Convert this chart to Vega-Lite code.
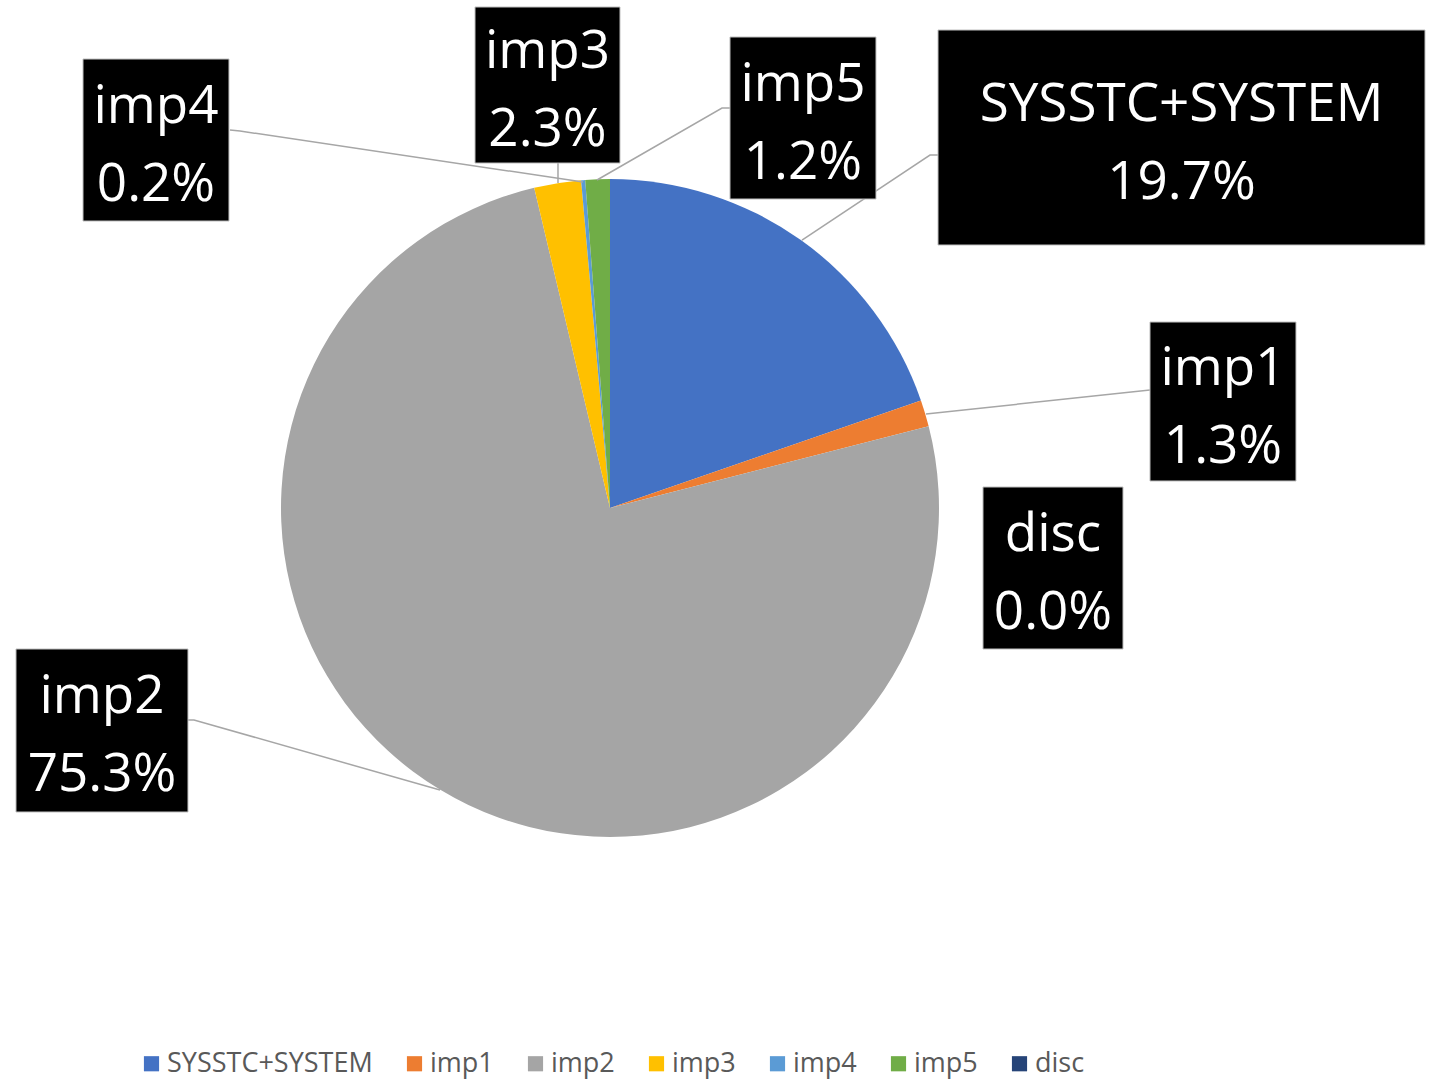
{
  "$schema": "https://vega.github.io/schema/vega-lite/v6.json",
  "width": 1220,
  "height": 1016,
  "autosize": {"type": "none"},
  "padding": {"left": 0, "top": 0, "right": 215, "bottom": 65},
  "background": "white",
  "config": {"view": {"stroke": null}, "font": "Open Sans"},
  "datasets": {
    "slices": [
      {"name": "SYSSTC+SYSTEM", "value": 19.7, "ord": 1, "bx1": 0.997, "bx2": 2.4772, "by1": 1.4529, "by2": 0.7994},
      {"name": "imp1", "value": 1.3, "ord": 2, "bx1": 1.6413, "bx2": 2.0851, "by1": 0.5653, "by2": 0.0821},
      {"name": "imp2", "value": 75.3, "ord": 3, "bx1": -1.8055, "bx2": -1.2827, "by1": -0.4286, "by2": -0.924},
      {"name": "imp3", "value": 2.3, "ord": 4, "bx1": -0.4103, "bx2": 0.0304, "by1": 1.5228, "by2": 1.0486},
      {"name": "imp4", "value": 0.2, "ord": 5, "bx1": -1.6018, "bx2": -1.1581, "by1": 1.3647, "by2": 0.8723},
      {"name": "imp5", "value": 1.2, "ord": 6, "bx1": 0.3647, "bx2": 0.8085, "by1": 1.4316, "by2": 0.9392},
      {"name": "disc", "value": 0.0, "ord": 7, "bx1": 1.1337, "bx2": 1.5593, "by1": 0.0638, "by2": -0.4286}
    ],
    "leaders": [
      {"name": "SYSSTC+SYSTEM", "seq": 1, "lx": 0.997, "ly": 1.0729},
      {"name": "SYSSTC+SYSTEM", "seq": 2, "lx": 0.9726, "ly": 1.0729},
      {"name": "SYSSTC+SYSTEM", "seq": 3, "lx": 0.5836, "ly": 0.8146},
      {"name": "imp1", "seq": 1, "lx": 1.6413, "ly": 0.3587},
      {"name": "imp1", "seq": 2, "lx": 0.9605, "ly": 0.2857},
      {"name": "imp2", "seq": 1, "lx": -1.2827, "ly": -0.6444},
      {"name": "imp2", "seq": 2, "lx": -1.2644, "ly": -0.6444},
      {"name": "imp2", "seq": 3, "lx": -0.5167, "ly": -0.8571},
      {"name": "imp3", "seq": 1, "lx": -0.1581, "ly": 1.0486},
      {"name": "imp3", "seq": 2, "lx": -0.1581, "ly": 0.9878},
      {"name": "imp4", "seq": 1, "lx": -1.155, "ly": 1.1489},
      {"name": "imp4", "seq": 2, "lx": -1.1246, "ly": 1.1459},
      {"name": "imp4", "seq": 3, "lx": -0.0821, "ly": 0.9909},
      {"name": "imp5", "seq": 1, "lx": 0.3647, "ly": 1.2158},
      {"name": "imp5", "seq": 2, "lx": 0.3404, "ly": 1.2158},
      {"name": "imp5", "seq": 3, "lx": -0.0395, "ly": 0.997}
    ]
  },
  "layer": [
    {
      "data": {"name": "slices"},
      "mark": {"type": "arc", "outerRadius": 329},
      "encoding": {
        "theta": {"field": "value", "type": "quantitative", "stack": true},
        "order": {"field": "ord", "type": "quantitative"},
        "color": {
          "field": "name",
          "type": "nominal",
          "scale": {
            "domain": ["SYSSTC+SYSTEM", "imp1", "imp2", "imp3", "imp4", "imp5", "disc"],
            "range": ["#4472C4", "#ED7D31", "#A5A5A5", "#FFC000", "#5B9BD5", "#70AD47", "#264478"]
          },
          "legend": {
            "orient": "none",
            "legendX": 138,
            "legendY": 1050,
            "direction": "horizontal",
            "title": null,
            "symbolType": "square",
            "symbolSize": 230,
            "symbolStrokeWidth": 0,
            "labelFontSize": 27,
            "labelColor": "#595959",
            "labelFont": "Open Sans",
            "labelLimit": 500,
            "columnPadding": 28,
            "labelOffset": 2
          }
        }
      }
    },
    {
      "data": {"name": "leaders"},
      "mark": {"type": "line", "color": "#a6a6a6", "strokeWidth": 1.5},
      "encoding": {
        "x": {"field": "lx", "type": "quantitative", "scale": {"domain": [-1.8541, 1.8541], "nice": false, "zero": false}, "axis": null},
        "y": {"field": "ly", "type": "quantitative", "scale": {"domain": [-1.5441, 1.5441], "nice": false, "zero": false}, "axis": null},
        "detail": {"field": "name", "type": "nominal"},
        "order": {"field": "seq", "type": "quantitative"}
      }
    },
    {
      "data": {"name": "slices"},
      "mark": {"type": "rect", "fill": "black", "stroke": "#bfbfbf", "strokeWidth": 1},
      "encoding": {
        "x": {"field": "bx1", "type": "quantitative", "scale": {"domain": [-1.8541, 1.8541], "nice": false, "zero": false}, "axis": null},
        "x2": {"field": "bx2"},
        "y": {"field": "by1", "type": "quantitative", "scale": {"domain": [-1.5441, 1.5441], "nice": false, "zero": false}, "axis": null},
        "y2": {"field": "by2"}
      }
    },
    {
      "data": {"name": "slices"},
      "transform": [
        {"calculate": "(datum.bx1 + datum.bx2) / 2", "as": "cx"},
        {"calculate": "(datum.by1 + datum.by2) / 2", "as": "cy"}
      ],
      "mark": {"type": "text", "color": "white", "fontSize": 53, "font": "Open Sans", "align": "center", "baseline": "alphabetic", "dy": -17},
      "encoding": {
        "x": {"field": "cx", "type": "quantitative", "scale": {"domain": [-1.8541, 1.8541], "nice": false, "zero": false}, "axis": null},
        "y": {"field": "cy", "type": "quantitative", "scale": {"domain": [-1.5441, 1.5441], "nice": false, "zero": false}, "axis": null},
        "text": {"field": "name", "type": "nominal"}
      }
    },
    {
      "data": {"name": "slices"},
      "transform": [
        {"calculate": "(datum.bx1 + datum.bx2) / 2", "as": "cx"},
        {"calculate": "(datum.by1 + datum.by2) / 2", "as": "cy"},
        {"calculate": "format(datum.value, '.1f') + '%'", "as": "pct"}
      ],
      "mark": {"type": "text", "color": "white", "fontSize": 53, "font": "Open Sans", "align": "center", "baseline": "alphabetic", "dy": 61},
      "encoding": {
        "x": {"field": "cx", "type": "quantitative", "scale": {"domain": [-1.8541, 1.8541], "nice": false, "zero": false}, "axis": null},
        "y": {"field": "cy", "type": "quantitative", "scale": {"domain": [-1.5441, 1.5441], "nice": false, "zero": false}, "axis": null},
        "text": {"field": "pct", "type": "nominal"}
      }
    }
  ]
}
